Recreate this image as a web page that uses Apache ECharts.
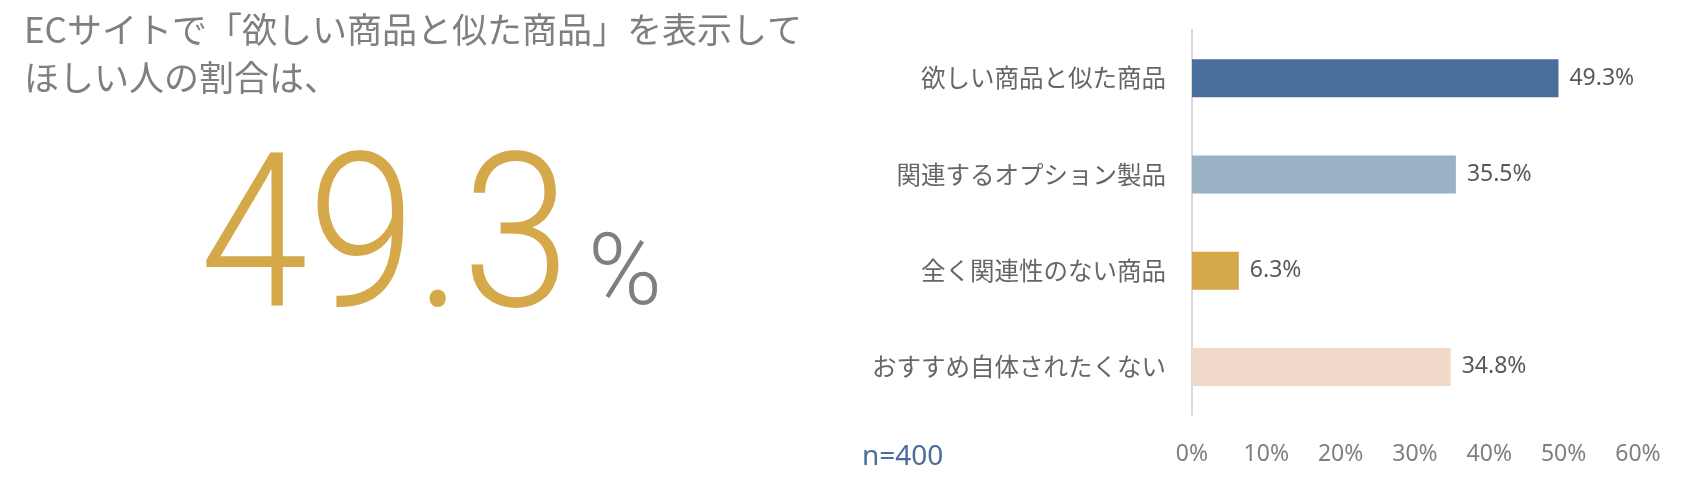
<!DOCTYPE html>
<html>
<head>
<meta charset="utf-8">
<script src="https://cdn.jsdelivr.net/npm/echarts@6/dist/echarts.min.js"></script>
<style>
  html, body { margin: 0; padding: 0; background: #fff; }
  #container { width: 1682px; height: 490px; }
</style>
</head>
<body>
<div id="container"></div>
<script>
var categories = ['欲しい商品と似た商品', '関連するオプション製品', '全く関連性のない商品', 'おすすめ自体されたくない'];
var values = [49.3, 35.5, 6.3, 34.8];
var barColors = ['#4A6E9C', '#99B2C4', '#D5A84A', '#F1D9CA'];
var titleLines = ['ECサイトで「欲しい商品と似た商品」を表示して', 'ほしい人の割合は、'];
var headline = '49.3';
var sampleNote = 'n=400';

var dom = document.getElementById('container');
var myChart = echarts.init(dom);

var barData = [];
for (var i = 0; i < values.length; i++) {
    barData.push({ value: values[i], itemStyle: { color: barColors[i] } });
}

var option = {
    backgroundColor: '#fff',
    animation: false,
    textStyle: { fontFamily: '"Noto Sans CJK JP", "Noto Sans", sans-serif' },
    grid: { left: 1192, right: 44, top: 30, bottom: 75 },
    xAxis: {
        type: 'value',
        min: 0,
        max: 60,
        interval: 10,
        axisLine: { show: false },
        axisTick: { show: false },
        splitLine: { show: false },
        axisLabel: {
            formatter: '{value}%',
            color: '#7f7f7f',
            fontSize: 23,
            margin: 28,
            fontFamily: '"Noto Sans", sans-serif'
        }
    },
    yAxis: {
        type: 'category',
        inverse: true,
        data: categories,
        axisLine: { show: true, lineStyle: { color: '#d9d9d9', width: 2 } },
        axisTick: { show: false },
        axisLabel: { color: '#666', fontSize: 24.5, margin: 26 }
    },
    series: [{
        type: 'bar',
        data: barData,
        barWidth: 38,
        label: {
            show: true,
            position: 'right',
            distance: 11,
            color: '#595959',
            fontSize: 23,
            fontFamily: '"Noto Sans", sans-serif',
            formatter: function (p) { return p.value.toFixed(1) + '%'; }
        }
    }],
    graphic: [
        {
            type: 'text', left: 24, top: 12,
            style: { text: titleLines[0], fill: '#7f7f7f', fontSize: 35, fontFamily: '"Noto Sans CJK JP", sans-serif' }
        },
        {
            type: 'text', left: 24, top: 60,
            style: { text: titleLines[1], fill: '#7f7f7f', fontSize: 35, fontFamily: '"Noto Sans CJK JP", sans-serif' }
        },
        {
            type: 'text', x: 200, y: 144, scaleX: 0.9,
            style: { text: headline, fill: '#D5A84A', fontSize: 216, fontFamily: 'Roboto, "Noto Sans", sans-serif', fontWeight: 300 }
        },
        {
            type: 'text', x: 588, y: 229,
            style: { text: '%', fill: '#7f7f7f', fontSize: 100, fontFamily: 'Roboto, "Noto Sans", sans-serif', fontWeight: 300 }
        },
        {
            type: 'text', left: 862, top: 443,
            style: { text: sampleNote, fill: '#4A6E9C', fontSize: 28, fontFamily: '"Noto Sans", sans-serif' }
        }
    ]
};

myChart.setOption(option);
</script>
</body>
</html>
